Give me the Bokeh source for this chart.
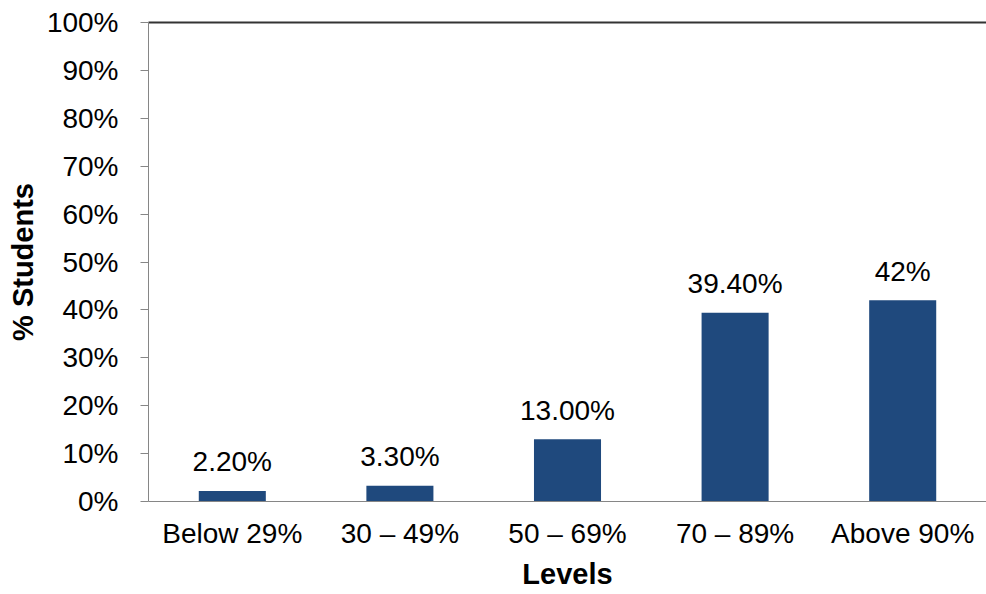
from bokeh.plotting import figure
from bokeh.models import ColumnDataSource, Range1d, FixedTicker, PrintfTickFormatter, CategoricalAxis
from bokeh.core.properties import value
from bokeh.embed import file_html
from bokeh.resources import INLINE

categories = ["Below 29%", "30 \u2013 49%", "50 \u2013 69%", "70 \u2013 89%", "Above 90%"]
values = [2.2, 3.3, 13.0, 39.4, 42.0]
value_labels = ["2.20%", "3.30%", "13.00%", "39.40%", "42%"]
y_ticks = [0, 10, 20, 30, 40, 50, 60, 70, 80, 90, 100]

FONT = "Liberation Sans"
BAR = "#1F497D"
GREY = "#868686"

src = ColumnDataSource(dict(cat=categories, val=values, lab=value_labels))

p = figure(x_range=categories, y_range=Range1d(0, 100), width=986, height=594,
           output_backend="svg", toolbar_location=None,
           min_border_left=148, min_border_right=0, min_border_top=22, min_border_bottom=93)

p.vbar(x="cat", top="val", width=0.4, source=src, color=BAR, line_color=None)
p.text(x="cat", y="val", text="lab", source=src, text_align="center",
       text_baseline="alphabetic", y_offset=-29, text_font=value(FONT),
       text_font_size="28px", text_color="#000000")

p.outline_line_color = None
p.grid.grid_line_color = None
p.background_fill_color = "white"
p.border_fill_color = "white"

yax = p.yaxis[0]
yax.ticker = FixedTicker(ticks=y_ticks)
yax.formatter = PrintfTickFormatter(format="%d%%")
yax.axis_line_color = GREY
yax.major_tick_line_color = GREY
yax.major_tick_out = 8
yax.major_tick_in = 0
yax.minor_tick_line_color = None
yax.major_label_standoff = 22
yax.major_label_text_font = FONT
yax.major_label_text_font_size = "28px"
yax.major_label_text_color = "#000000"
yax.axis_label = "% Students"
yax.axis_label_text_font = FONT
yax.axis_label_text_font_size = "29px"
yax.axis_label_text_font_style = "bold"
yax.axis_label_text_color = "#000000"
yax.axis_label_standoff = 5

xax = p.below[0]
xax.axis_line_color = GREY
xax.major_tick_line_color = None
xax.major_tick_out = 0
xax.major_tick_in = 0
xax.minor_tick_line_color = None
xax.major_label_standoff = 16
xax.major_label_text_font = FONT
xax.major_label_text_font_size = "28px"
xax.major_label_text_color = "#000000"
xax.axis_label = "Levels"
xax.axis_label_text_font = FONT
xax.axis_label_text_font_size = "29px"
xax.axis_label_text_font_style = "bold"
xax.axis_label_text_color = "#000000"
xax.axis_label_standoff = 6

top_axis = CategoricalAxis(axis_line_color="#333333", axis_line_width=2,
                           major_tick_line_color=None, minor_tick_line_color=None,
                           major_tick_out=0, major_tick_in=0,
                           major_label_text_color=None, major_label_text_font_size="1px",
                           major_label_standoff=0)
p.add_layout(top_axis, "above")

open("out.html", "w").write(file_html(p, INLINE))
